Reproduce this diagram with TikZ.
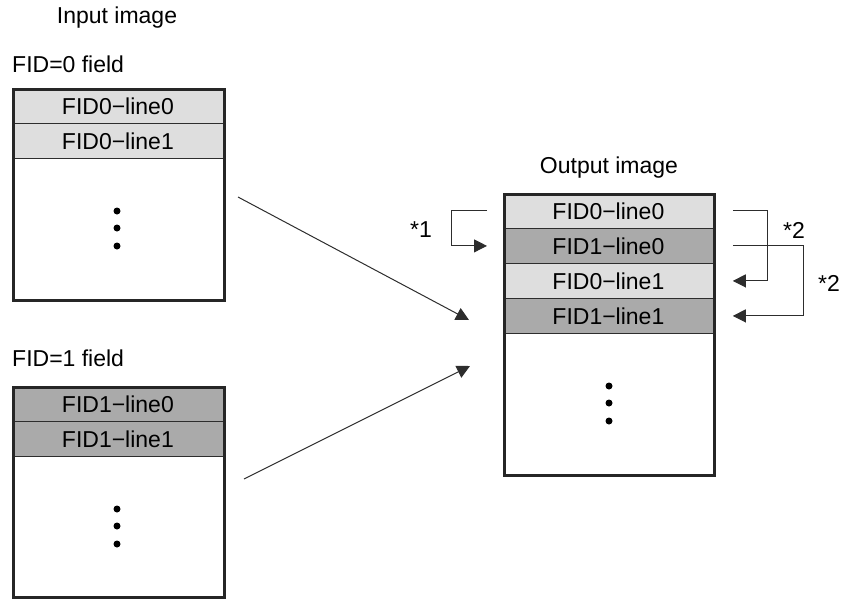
\documentclass[tikz,border=0pt]{standalone}
\usepackage{fontspec}
\setmainfont{Liberation Sans}
\usetikzlibrary{arrows.meta}
\definecolor{lightrow}{RGB}{222,222,222}
\definecolor{darkrow}{RGB}{170,170,170}
\definecolor{lineclr}{RGB}{45,45,45}
\begin{document}
\begin{tikzpicture}[x=1pt,y=-1pt,
  every node/.style={font=\fontsize{23}{27}\selectfont, inner sep=0pt},
  rowA/.style={draw=lineclr, line width=0.8pt, fill=lightrow, minimum width=211pt, minimum height=35pt, anchor=north west},
  rowB/.style={draw=lineclr, line width=0.8pt, fill=darkrow, minimum width=211pt, minimum height=35pt, anchor=north west},
  frame/.style={draw=black!85, line width=3.2pt, anchor=north west},
  dot/.style={fill=black, circle, minimum size=7pt},
  conn/.style={draw=lineclr, line width=1pt, -{Triangle[length=13pt,width=13pt]}},
  lbl/.style={anchor=base west}
]
\useasboundingbox (0,0) rectangle (845,598);

% Input image labels
\node (inlbl) at (117,18) {Input image};
\node[anchor=west] (f0lbl) at (12,64) {FID=0 field};
\node[anchor=west] (f1lbl) at (12,358) {FID=1 field};

% Field 0 box
\node[rowA] (a0) at (12,88) {FID0{\char"2212}line0};
\node[rowA] (a1) at (12,123) {FID0{\char"2212}line1};
\node[frame, minimum width=211pt, minimum height=211pt] (fa) at (12,88) {};
\node[dot] (ad1) at (117,211) {};
\node[dot] (ad2) at (117,228) {};
\node[dot] (ad3) at (117,246) {};

% Field 1 box
\node[rowB] (b0) at (12,386) {FID1{\char"2212}line0};
\node[rowB] (b1) at (12,421) {FID1{\char"2212}line1};
\node[frame, minimum width=211pt, minimum height=210pt] (fb) at (12,386) {};
\node[dot] (bd1) at (117,509) {};
\node[dot] (bd2) at (117,526) {};
\node[dot] (bd3) at (117,544) {};

% Output image
\node (outlbl) at (609,168) {Output image};
\node[rowA, minimum width=210pt] (o0) at (503,193) {FID0{\char"2212}line0};
\node[rowB, minimum width=210pt] (o1) at (503,228) {FID1{\char"2212}line0};
\node[rowA, minimum width=210pt] (o2) at (503,263) {FID0{\char"2212}line1};
\node[rowB, minimum width=210pt] (o3) at (503,298) {FID1{\char"2212}line1};
\node[frame, minimum width=210pt, minimum height=281pt] (fo) at (503,193) {};
\node[dot] (od1) at (609,386) {};
\node[dot] (od2) at (609,403) {};
\node[dot] (od3) at (609,421) {};

% diagonal arrows
\coordinate (d1s) at (238,197);
\coordinate (d1e) at (469,320);
\coordinate (d2s) at (244,479);
\coordinate (d2e) at (470,366);
\draw[conn] (d1s) -- (d1e);
\draw[conn] (d2s) -- (d2e);

% *1 connector
\coordinate (s1a) at ([xshift=-16pt]o0.west);
\coordinate (s1b) at ([xshift=-16pt]o1.west);
\draw[conn] (s1a) -- ++(-36,0) |- (s1b);
\node (st1) at (421,230) {*1};

% *2 connectors
\coordinate (s2a) at ([xshift=19pt]o0.east);
\coordinate (s2b) at ([xshift=19pt]o2.east);
\coordinate (s3a) at ([xshift=19pt]o1.east);
\coordinate (s3b) at ([xshift=19pt]o3.east);
\draw[conn] (s2a) -- ++(35,0) |- (s2b);
\draw[conn] (s3a) -- ++(71,0) |- (s3b);
\node (st2) at (794,230) {*2};
\node (st3) at (829,283) {*2};
\end{tikzpicture}
\end{document}
